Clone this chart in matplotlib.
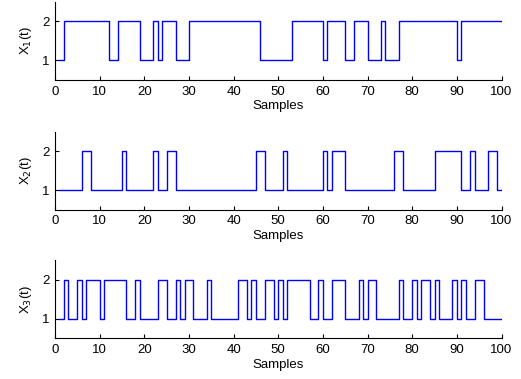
import numpy
import matplotlib
matplotlib.use('Agg')
import matplotlib.pyplot as plt

plt.rcParams['font.family'] = ['Liberation Sans', 'DejaVu Sans']

# state of each chain at samples 1..100
x1 = [1, 2, 2, 2, 2, 2, 2, 2, 2, 2,
      2, 1, 1, 2, 2, 2, 2, 2, 1, 1,
      1, 2, 1, 2, 2, 2, 1, 1, 1, 2,
      2, 2, 2, 2, 2, 2, 2, 2, 2, 2,
      2, 2, 2, 2, 2, 1, 1, 1, 1, 1,
      1, 1, 2, 2, 2, 2, 2, 2, 2, 1,
      2, 2, 2, 2, 1, 1, 2, 2, 2, 1,
      1, 1, 2, 1, 1, 1, 2, 2, 2, 2,
      2, 2, 2, 2, 2, 2, 2, 2, 2, 1,
      2, 2, 2, 2, 2, 2, 2, 2, 2, 2]

x2 = [1, 1, 1, 1, 1, 2, 2, 1, 1, 1,
      1, 1, 1, 1, 2, 1, 1, 1, 1, 1,
      1, 2, 1, 1, 2, 2, 1, 1, 1, 1,
      1, 1, 1, 1, 1, 1, 1, 1, 1, 1,
      1, 1, 1, 1, 2, 2, 1, 1, 1, 1,
      2, 1, 1, 1, 1, 1, 1, 1, 1, 2,
      1, 2, 2, 2, 1, 1, 1, 1, 1, 1,
      1, 1, 1, 1, 1, 2, 2, 1, 1, 1,
      1, 1, 1, 1, 2, 2, 2, 2, 2, 2,
      1, 1, 2, 1, 1, 1, 2, 2, 1, 1]

x3 = [1, 2, 1, 1, 2, 1, 2, 2, 2, 1,
      2, 2, 2, 2, 2, 1, 1, 2, 1, 1,
      1, 1, 2, 2, 1, 1, 2, 1, 2, 2,
      1, 1, 1, 2, 1, 1, 1, 1, 1, 1,
      2, 2, 1, 2, 1, 1, 2, 2, 1, 2,
      1, 2, 2, 2, 2, 2, 1, 1, 2, 1,
      1, 2, 2, 2, 1, 1, 1, 2, 1, 2,
      2, 1, 1, 1, 1, 1, 2, 1, 1, 2,
      1, 2, 2, 1, 2, 1, 1, 1, 2, 1,
      2, 1, 1, 2, 2, 1, 1, 1, 1, 1]

series = [x1, x2, x3]
ylabels = [r'X$_1$(t)', r'X$_2$(t)', r'X$_3$(t)']
samples = numpy.arange(1, 101)

fig = plt.figure(figsize=(5.21, 3.79), dpi=100)
bottoms = [0.789, 0.447, 0.107]

for k in range(3):
    axe = fig.add_axes([0.1056, bottoms[k], 0.857, 0.206])
    axe.step(samples, series[k], where='post', color='b', linewidth=1.0)
    axe.set_xlim(0, 100)
    axe.set_ylim(0.5, 2.5)
    axe.set_xticks(numpy.arange(0, 101, 10))
    axe.set_yticks([1, 2])
    axe.spines['top'].set_visible(False)
    axe.spines['right'].set_visible(False)
    axe.tick_params(direction='in', labelsize=9.5, length=3, width=0.8, pad=4)
    axe.set_xlabel('Samples', fontsize=9.5, labelpad=2)
    axe.set_ylabel(ylabels[k], fontsize=9.5, labelpad=6)

plt.savefig('out.png', dpi=100)
plt.close()
